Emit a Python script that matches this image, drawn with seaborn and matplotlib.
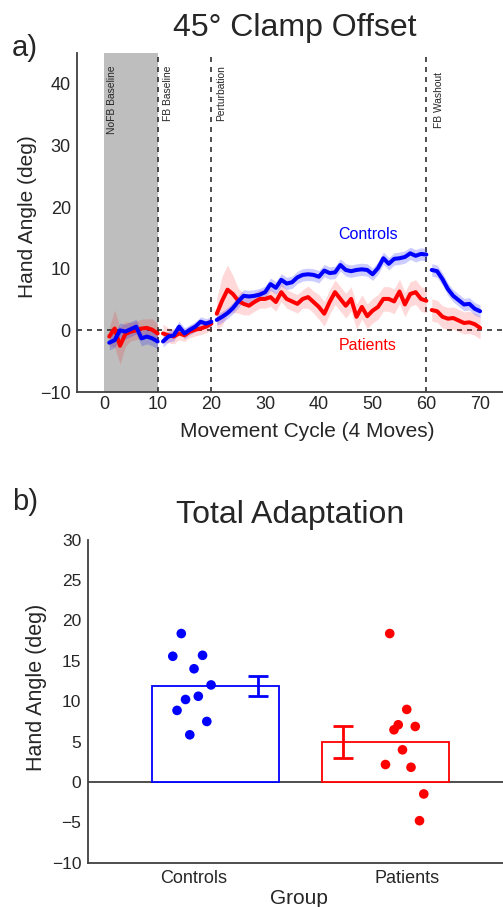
import numpy as np
import pandas as pd
import matplotlib
matplotlib.use("Agg")
import matplotlib.pyplot as plt
import seaborn as sns

# ---------------- data ----------------
cycles = list(range(1, 71))

controls_mean = [
    -2.0, -1.6, 0.0, -0.2, 0.2, 0.6, -1.3, -1.0, -1.3, -1.8,
    -1.8, -1.0, -0.8, 0.6, -0.5, 0.1, 0.6, 1.4, 1.1, 1.4,
    1.7, 2.2, 2.8, 3.6, 4.7, 5.6, 5.5, 5.6, 5.8, 6.2,
    7.5, 6.9, 8.2, 7.6, 7.8, 8.6, 9.0, 9.1, 9.0, 8.7,
    9.7, 9.3, 9.4, 10.6, 9.8, 9.6, 9.8, 9.9, 9.8, 9.1,
    10.1, 11.7, 10.8, 11.6, 11.7, 11.9, 12.5, 12.1, 12.4, 12.3,
    9.8, 9.6, 8.3, 6.7, 5.6, 4.9, 4.2, 4.3, 3.5, 3.1,
]
controls_sem = [
    1.2, 1.2, 1.2, 1.2, 1.2, 1.2, 1.2, 1.2, 1.2, 1.2,
    0.9, 0.9, 0.9, 0.9, 0.9, 0.8, 0.8, 0.8, 0.8, 0.8,
    0.9, 0.9, 0.9, 0.9, 1.0, 1.0, 1.0, 1.0, 1.0, 1.0,
    1.0, 1.0, 1.0, 1.0, 1.0, 1.0, 1.0, 1.0, 1.0, 1.0,
    1.0, 1.0, 1.0, 1.0, 1.0, 1.0, 1.0, 1.0, 1.0, 1.0,
    1.0, 1.0, 1.0, 1.0, 1.0, 1.0, 1.0, 1.0, 1.0, 1.0,
    1.0, 1.0, 1.0, 1.0, 1.0, 1.0, 1.0, 1.0, 1.0, 1.0,
]
patients_mean = [
    -1.0, 0.3, -2.5, -0.6, -0.2, 0.0, 0.3, 0.4, 0.1, -0.5,
    -0.5, -0.8, -1.0, -0.5, -0.8, -0.2, 0.1, 0.3, 0.6, 1.1,
    2.7, 4.8, 6.6, 5.9, 4.8, 4.3, 4.0, 4.6, 5.1, 5.1,
    5.4, 4.6, 6.2, 5.1, 4.7, 4.3, 5.1, 5.4, 4.6, 3.8,
    2.7, 4.6, 6.2, 5.1, 4.0, 5.1, 2.2, 3.8, 2.3, 3.2,
    3.8, 5.1, 5.1, 4.7, 6.3, 4.2, 5.9, 6.2, 5.1, 4.8,
    3.3, 3.1, 2.2, 1.9, 2.0, 1.6, 1.2, 1.3, 1.0, 0.4,
]
patients_sem = [
    1.5, 3.0, 3.0, 2.0, 1.5, 1.5, 1.5, 1.5, 1.8, 1.5,
    1.5, 1.2, 1.2, 1.0, 1.0, 1.0, 1.0, 1.0, 1.0, 1.0,
    2.5, 4.0, 4.0, 3.0, 2.0, 1.8, 1.5, 1.5, 1.5, 1.5,
    1.5, 1.5, 1.5, 1.5, 1.5, 1.5, 1.5, 1.8, 1.8, 2.0,
    2.0, 2.0, 2.0, 2.0, 2.0, 2.0, 2.0, 2.0, 2.0, 2.0,
    2.0, 2.0, 2.0, 2.0, 2.0, 2.0, 2.0, 2.0, 2.0, 2.0,
    1.8, 1.8, 1.8, 1.8, 1.8, 1.8, 1.8, 1.8, 1.8, 1.8,
]

phase_edges = [0, 10, 20, 60, 70]
phase_names = ["NoFB Baseline", "FB Baseline", "Perturbation", "FB Washout"]

groups = ["Controls", "Patients"]
controls_total = [18.36, 15.55, 15.67, 14.0, 12.0, 10.6, 10.2, 8.85, 7.48, 5.83]
patients_total = [18.36, 8.97, 7.07, 6.45, 6.86, 3.97, 2.15, 1.81, -1.49, -4.80]
controls_jitter = [-0.06, -0.10, 0.04, 0.0, 0.08, 0.02, -0.04, -0.08, 0.06, -0.02]
patients_jitter = [-0.08, 0.0, -0.04, -0.06, 0.04, -0.02, -0.10, 0.02, 0.08, 0.06]

# ---------------- style ----------------
sns.set_theme(style="white")
plt.rcParams["font.family"] = ["Liberation Sans", "DejaVu Sans"]
TEXT = "#262626"
SPINE = "#404040"
BLUE = "#0000ff"
RED = "#ff0000"
colors = {"Controls": BLUE, "Patients": RED}
band_alpha = {"Controls": 0.2, "Patients": 0.15}
plt.rcParams.update({
    "text.color": TEXT, "axes.labelcolor": TEXT,
    "xtick.color": SPINE, "ytick.color": SPINE,
    "xtick.labelcolor": TEXT, "ytick.labelcolor": TEXT,
})

W, H = 503, 907
fig = plt.figure(figsize=(W / 100, H / 100), dpi=100)


def px_axes(left, top, right, bottom):
    return fig.add_axes([left / W, 1 - bottom / H, (right - left) / W, (bottom - top) / H])


def style_axes(ax, tick_size):
    for side in ("top", "right"):
        ax.spines[side].set_visible(False)
    for side in ("left", "bottom"):
        ax.spines[side].set_color(SPINE)
        ax.spines[side].set_linewidth(1.3)
    ax.tick_params(axis="y", direction="out", length=3, width=1, pad=1.5, labelsize=tick_size)
    ax.tick_params(axis="x", direction="in", length=3, width=1, pad=3, labelsize=tick_size)


# ---------------- panel a: learning curves ----------------
ax1 = px_axes(77, 53, 507, 392)
ax1.set_xlim(-5, 75)
ax1.set_ylim(-10, 45)

ax1.axvspan(phase_edges[0], phase_edges[1], color="#bebebe", lw=0, zorder=0)
for xv in phase_edges[1:4]:
    ax1.axvline(xv, color="#303030", lw=1.2, ls=(0, (3, 3)), zorder=1)
ax1.axhline(0, color="#303030", lw=1.2, ls=(0, (3, 3)), zorder=1)

curves = pd.DataFrame({
    "cycle": cycles * 2,
    "angle": controls_mean + patients_mean,
    "sem": controls_sem + patients_sem,
    "group": ["Controls"] * 70 + ["Patients"] * 70,
})
curves["phase"] = pd.cut(curves["cycle"], phase_edges, labels=False)

for g in ["Patients", "Controls"]:
    for ph, d in curves[curves["group"] == g].groupby("phase"):
        ax1.fill_between(d["cycle"], d["angle"] - d["sem"], d["angle"] + d["sem"],
                         color=colors[g], alpha=band_alpha[g], lw=0, zorder=2)
for g in ["Patients", "Controls"]:
    for ph, d in curves[curves["group"] == g].groupby("phase"):
        sns.lineplot(data=d, x="cycle", y="angle", color=colors[g], lw=2.9,
                     ax=ax1, zorder=3, legend=False)

phase_label_x = [1.6, 11.9, 21.9, 62.4]
phase_label_top = [43.0, 43.0, 43.0, 41.9]
for name, xl, yt in zip(phase_names, phase_label_x, phase_label_top):
    ax1.text(xl, yt, name, rotation=90, ha="center", va="top", fontsize=7.4, color=TEXT)

ax1.text(49.2, 15.6, "Controls", color=BLUE, ha="center", va="center", fontsize=11.5)
ax1.text(49.0, -2.4, "Patients", color=RED, ha="center", va="center", fontsize=11.5)

ax1.set_xticks([0, 10, 20, 30, 40, 50, 60, 70])
ax1.set_yticks([-10, 0, 10, 20, 30, 40])
ax1.set_yticklabels(["\u221210", "0", "10", "20", "30", "40"])
style_axes(ax1, 13)
ax1.set_xlabel("Movement Cycle (4 Moves)", fontsize=15)
ax1.set_ylabel("Hand Angle (deg)", fontsize=15)
ax1.xaxis.label.set_va("center")
ax1.yaxis.label.set_va("center")
ax1.xaxis.set_label_coords((307.5 - 77) / 430, (392 - 431.5) / 339)
ax1.yaxis.set_label_coords((28 - 77) / 430, (392 - 217) / 339)

# ---------------- panel b: total adaptation ----------------
ax2 = px_axes(87.7, 539.5, 513.1, 862.7)
ax2.set_xlim(-0.5, 1.5)
ax2.set_ylim(-10, 30)

totals = [controls_total, patients_total]
means = [float(np.mean(v)) for v in totals]
sems = [float(np.std(v, ddof=1) / np.sqrt(len(v))) for v in totals]
bar_x = [0.1, 0.9]
err_x = [0.3, 0.7]

ax2.bar(bar_x, means, width=0.6, color="white", edgecolor=[BLUE, RED], linewidth=1.3, zorder=2)
for i, g in enumerate(groups):
    ax2.errorbar(err_x[i], means[i], yerr=sems[i], fmt="none", ecolor=colors[g],
                 elinewidth=2, capsize=7.5, capthick=2, zorder=3)

points = pd.DataFrame({
    "group": ["Controls"] * len(controls_total) + ["Patients"] * len(patients_total),
    "value": controls_total + patients_total,
    "x": [0 + j for j in controls_jitter] + [1 + j for j in patients_jitter],
})
sns.scatterplot(data=points, x="x", y="value", hue="group", palette=colors,
                s=48, edgecolor="none", ax=ax2, zorder=4, legend=False)

ax2.axhline(0, color=SPINE, lw=1.3, zorder=1)
ax2.set_xticks([0, 1])
ax2.set_xticklabels(groups)
ax2.set_yticks([-10, -5, 0, 5, 10, 15, 20, 25, 30])
ax2.set_yticklabels(["\u221210", "\u22125", "0", "5", "10", "15", "20", "25", "30"])
style_axes(ax2, 12.5)
ax2.tick_params(axis="x", pad=5, labelsize=13)
ax2.set_xlabel("Group", fontsize=15)
ax2.set_ylabel("Hand Angle (deg)", fontsize=15.5)
ax2.xaxis.label.set_va("center")
ax2.yaxis.label.set_va("center")
ax2.xaxis.set_label_coords((299 - 87.7) / 425.4, (862.7 - 898) / 323.2)
ax2.yaxis.set_label_coords((37 - 87.7) / 425.4, (862.7 - 687) / 323.2)

# ---------------- titles and panel letters ----------------
fig.text(295 / W, 1 - 36 / H, "45\u00b0 Clamp Offset", ha="center", va="baseline", fontsize=23)
fig.text(12 / W, 1 - 56 / H, "a)", ha="left", va="baseline", fontsize=21)
fig.text(290 / W, 1 - 522.5 / H, "Total Adaptation", ha="center", va="baseline", fontsize=23)
fig.text(12 / W, 1 - 510 / H, "b)", ha="left", va="baseline", fontsize=21)

fig.savefig("out.png", dpi=100)
